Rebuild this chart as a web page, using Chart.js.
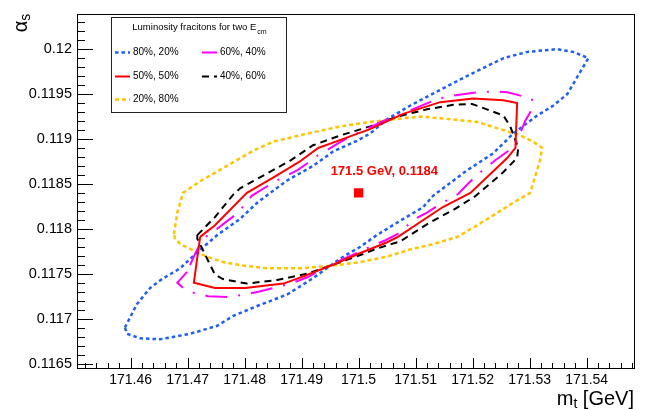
<!DOCTYPE html>
<html>
<head>
<meta charset="utf-8">
<title>alpha_s vs m_t</title>
<script src="https://cdn.jsdelivr.net/npm/chart.js@4.4.1/dist/chart.umd.min.js"></script>
<style>
    html, body { margin: 0; padding: 0; background: #fff; }
    canvas { display: block; }
</style>
</head>
<body>
<canvas id="contours" width="648" height="409"></canvas>
<script>
// axis ticks
var mtTicks = [171.46, 171.47, 171.48, 171.49, 171.5, 171.51, 171.52, 171.53, 171.54];
var asTicks = [0.1165, 0.117, 0.1175, 0.118, 0.1185, 0.119, 0.1195, 0.12];

// best fit point
var bestMt = [171.5];
var bestAs = [0.1184];

// 80%, 20%
var mt8020 = [171.4590, 171.4611, 171.4634, 171.4655, 171.4687, 171.4717, 171.4752, 171.4792, 171.4822, 171.4845,
              171.4875, 171.4920, 171.4955, 171.4997, 171.5020, 171.5050, 171.5090, 171.5138, 171.5196, 171.5254,
              171.5296, 171.5348, 171.5376, 171.5403, 171.5389, 171.5366, 171.5341, 171.5313, 171.5271, 171.5236,
              171.5190, 171.5131, 171.5113, 171.5073, 171.5032, 171.5003, 171.4968, 171.4920, 171.4875, 171.4822,
              171.4780, 171.4752, 171.4704, 171.4652, 171.4617, 171.4594];
var as8020 = [0.11690, 0.11716, 0.11734, 0.11744, 0.11756, 0.11774, 0.11793, 0.11811, 0.11829, 0.11840,
              0.11854, 0.11870, 0.11886, 0.11898, 0.11906, 0.11922, 0.11937, 0.11953, 0.11972, 0.11990,
              0.11997, 0.12000, 0.11997, 0.11990, 0.11975, 0.11950, 0.11937, 0.11926, 0.11906, 0.11884,
              0.11865, 0.11837, 0.11824, 0.11809, 0.11793, 0.11780, 0.11767, 0.11745, 0.11727, 0.11714,
              0.11703, 0.11692, 0.11683, 0.11677, 0.11678, 0.11683];

// 60%, 40%
var mt6040 = [171.4699, 171.4682, 171.4692, 171.4713, 171.4736, 171.4775, 171.4801, 171.4824, 171.4862, 171.4885,
              171.4910, 171.4955, 171.5020, 171.5046, 171.5068, 171.5099, 171.5120, 171.5139, 171.5175, 171.5190,
              171.5208, 171.5239, 171.5261, 171.5278, 171.5292, 171.5304, 171.5304, 171.5261, 171.5236, 171.5208,
              171.5173, 171.5148, 171.5125, 171.5087, 171.5043, 171.5003, 171.4985, 171.4964, 171.4929, 171.4910,
              171.4892, 171.4854, 171.4813, 171.4787, 171.4768, 171.4748, 171.4727, 171.4713];
var as6040 = [0.11752, 0.11740, 0.11734, 0.11728, 0.11725, 0.11724, 0.11727, 0.11730, 0.11736, 0.11740,
              0.11746, 0.11761, 0.11780, 0.11787, 0.11794, 0.11811, 0.11818, 0.11826, 0.11839, 0.11849,
              0.11860, 0.11876, 0.11886, 0.11898, 0.11920, 0.11933, 0.11945, 0.11952, 0.11953, 0.11952,
              0.11949, 0.11946, 0.11941, 0.11931, 0.11920, 0.11908, 0.11903, 0.11895, 0.11882, 0.11873,
              0.11865, 0.11853, 0.11837, 0.11817, 0.11808, 0.11798, 0.11789, 0.11772];

// 50%, 50%
var mt5050 = [171.4722, 171.4748, 171.4804, 171.4850, 171.4897, 171.4929, 171.4955, 171.5020, 171.5078, 171.5143,
              171.5201, 171.5254, 171.5278, 171.5275, 171.5261, 171.5196, 171.5147, 171.5069, 171.5050, 171.5003,
              171.4955, 171.4903, 171.4868, 171.4801, 171.4748, 171.4711];
var as5050 = [0.11791, 0.11804, 0.11840, 0.11857, 0.11875, 0.11890, 0.11896, 0.11911, 0.11928, 0.11941,
              0.11945, 0.11943, 0.11940, 0.11890, 0.11879, 0.11840, 0.11824, 0.11791, 0.11785, 0.11773,
              0.11760, 0.11747, 0.11739, 0.11734, 0.11734, 0.11740];

// 40%, 60%
var mt4060 = [171.4717, 171.4748, 171.4780, 171.4792, 171.4832, 171.4880, 171.4920, 171.4968, 171.5020, 171.5068,
              171.5120, 171.5166, 171.5199, 171.5225, 171.5254, 171.5266, 171.5280, 171.5278, 171.5252, 171.5204,
              171.5166, 171.5125, 171.5090, 171.5073, 171.5032, 171.5008, 171.4955, 171.4910, 171.4857, 171.4804,
              171.4762, 171.4748, 171.4717];
var as4060 = [0.11793, 0.11813, 0.11838, 0.11845, 0.11859, 0.11876, 0.11893, 0.11904, 0.11914, 0.11925,
              0.11933, 0.11938, 0.11939, 0.11933, 0.11926, 0.11914, 0.11890, 0.11879, 0.11862, 0.11836,
              0.11821, 0.11807, 0.11793, 0.11786, 0.11778, 0.11772, 0.11760, 0.11750, 0.11743, 0.11739,
              0.11744, 0.11749, 0.11789];

// 20%, 80%
var mt2080 = [171.4676, 171.4682, 171.4692, 171.4722, 171.4769, 171.4815, 171.4850, 171.4910, 171.4968, 171.5020,
              171.5061, 171.5108, 171.5161, 171.5208, 171.5248, 171.5283, 171.5306, 171.5322, 171.5318, 171.5310,
              171.5301, 171.5271, 171.5236, 171.5208, 171.5173, 171.5131, 171.5090, 171.5050, 171.5003, 171.4955,
              171.4897, 171.4839, 171.4797, 171.4762, 171.4734, 171.4717, 171.4687, 171.4678];
var as2080 = [0.11794, 0.11818, 0.11840, 0.11853, 0.11870, 0.11887, 0.11897, 0.11906, 0.11914, 0.11919,
              0.11922, 0.11925, 0.11922, 0.11919, 0.11911, 0.11904, 0.11897, 0.11890, 0.11876, 0.11859,
              0.11840, 0.11829, 0.11815, 0.11804, 0.11791, 0.11783, 0.11777, 0.11769, 0.11763, 0.11759,
              0.11756, 0.11756, 0.11759, 0.11763, 0.11769, 0.11774, 0.11783, 0.11789];

var FONT = "'Liberation Sans', Arial, Helvetica, sans-serif";
Chart.defaults.font.family = FONT;

// closed contour from two coordinate lists
function contour(xs, ys) {
    var pts = xs.map(function (x, i) { return {x: x, y: ys[i]}; });
    pts.push(pts[0]);
    return pts;
}

function line(label, xs, ys, color, dash, width) {
    return {
        label: label,
        data: contour(xs, ys),
        showLine: true,
        borderColor: color,
        backgroundColor: color,
        borderWidth: width,
        borderDash: dash,
        pointRadius: 0,
        tension: 0,
        fill: false
    };
}

function fmt(v) {
    return String(Number(v.toFixed(5)));
}

// ROOT style box with inward ticks, axis titles, legend and the best fit label
var decorations = {
    id: 'decorations',
    afterDraw: function (chart) {
        var ctx = chart.ctx, a = chart.chartArea;
        var sx = chart.scales.x, sy = chart.scales.y;
        var k, v, p;
        ctx.save();
        ctx.strokeStyle = '#000';
        ctx.lineWidth = 1;
        ctx.strokeRect(Math.round(a.left) + 0.5, Math.round(a.top) + 0.5,
                       Math.round(a.right - a.left), Math.round(a.bottom - a.top));

        ctx.beginPath();
        for (k = Math.ceil(sx.min / 0.002 - 1e-6); k * 0.002 <= sx.max + 1e-9; k++) {
            p = Math.round(sx.getPixelForValue(k * 0.002)) + 0.5;
            ctx.moveTo(p, a.bottom);
            ctx.lineTo(p, a.bottom - (k % 5 === 0 ? 10 : 5));
        }
        for (k = Math.ceil(sy.min / 0.0001 - 1e-6); k * 0.0001 <= sy.max + 1e-9; k++) {
            p = Math.round(sy.getPixelForValue(k * 0.0001)) + 0.5;
            ctx.moveTo(a.left, p);
            ctx.lineTo(a.left + (k % 5 === 0 ? 16 : 8), p);
        }
        ctx.stroke();

        // x title: m_t [GeV]
        ctx.fillStyle = '#000';
        ctx.textBaseline = 'alphabetic';
        ctx.textAlign = 'left';
        ctx.font = '20px ' + FONT;
        var wm = ctx.measureText('m').width;
        var wg = ctx.measureText(' [GeV]').width;
        ctx.font = '14px ' + FONT;
        var wt = ctx.measureText('t').width;
        var x0 = a.right - wm - wt - wg;
        ctx.font = '20px ' + FONT;
        ctx.fillText('m', x0, 405);
        ctx.fillText(' [GeV]', x0 + wm + wt, 405);
        ctx.font = '14px ' + FONT;
        ctx.fillText('t', x0 + wm, 408);

        // y title: alpha_s, rotated
        ctx.save();
        ctx.translate(27, a.top);
        ctx.rotate(-Math.PI / 2);
        ctx.font = '20px ' + FONT;
        var wa = ctx.measureText('\u03b1').width;
        ctx.font = '14px ' + FONT;
        var ws = ctx.measureText('s').width;
        ctx.font = '20px ' + FONT;
        ctx.fillText('\u03b1', -wa - ws, 0);
        ctx.font = '14px ' + FONT;
        ctx.fillText('s', -ws, 3);
        ctx.restore();

        // best fit label
        var bx = sx.getPixelForValue(bestMt[0]), by = sy.getPixelForValue(bestAs[0]);
        ctx.fillStyle = '#ff0000';
        ctx.font = 'bold 13px ' + FONT;
        ctx.fillText(bestMt[0] + ' GeV, ' + bestAs[0], bx - 28, by - 18);

        // legend box
        ctx.fillStyle = '#fff';
        ctx.fillRect(111, 17, 175, 95);
        ctx.strokeStyle = '#222';
        ctx.lineWidth = 1;
        ctx.strokeRect(111.5, 17.5, 175, 95);
        ctx.fillStyle = '#000';
        ctx.textBaseline = 'middle';
        ctx.font = '9.5px ' + FONT;
        var title = 'Luminosity fracitons for two E';
        var wtl = ctx.measureText(title).width;
        ctx.font = '7px ' + FONT;
        var wcm = ctx.measureText('cm').width;
        var tx = 199 - (wtl + wcm) / 2;
        ctx.font = '9.5px ' + FONT;
        ctx.fillText(title, tx, 27);
        ctx.font = '7px ' + FONT;
        ctx.fillText('cm', tx + wtl + 1, 32);

        var rows = [52, 76, 99], cols = [115, 202];
        chart.data.datasets.forEach(function (ds) {
            if (ds.slot === undefined) return;
            var lx = cols[ds.slot[1]], ly = rows[ds.slot[0]];
            ctx.save();
            ctx.strokeStyle = ds.borderColor;
            ctx.lineWidth = ds.borderWidth;
            ctx.setLineDash(ds.borderDash);
            ctx.beginPath();
            ctx.moveTo(lx, ly + 0.5);
            ctx.lineTo(lx + 15, ly + 0.5);
            ctx.stroke();
            ctx.restore();
            ctx.fillStyle = '#000';
            ctx.font = '10px ' + FONT;
            ctx.fillText(ds.label, lx + 18, ly + 0.5);
        });
        ctx.restore();
    }
};

var blue = line('80%, 20%', mt8020, as8020, '#1f5ff2', [3.5, 3], 2.5);
blue.slot = [0, 0];
var magenta = line('60%, 40%', mt6040, as6040, '#ff00ff', [22, 11, 2, 11], 2);
magenta.slot = [0, 1];
var red = line('50%, 50%', mt5050, as5050, '#ff0000', [], 2);
red.slot = [1, 0];
var black = line('40%, 60%', mt4060, as4060, '#000000', [7, 5], 2);
black.slot = [1, 1];
var yellow = line('20%, 80%', mt2080, as2080, '#ffc400', [4, 3], 2.5);
yellow.slot = [2, 0];

var best = {
    label: 'best fit',
    data: bestMt.map(function (x, i) { return {x: x, y: bestAs[i]}; }),
    pointStyle: 'rect',
    pointRadius: 6.6,
    pointHoverRadius: 6.6,
    backgroundColor: '#ff0000',
    borderColor: '#ff0000',
    borderWidth: 0,
    showLine: false
};

new Chart(document.getElementById('contours'), {
    type: 'scatter',
    data: {
        datasets: [best, red, magenta, black, blue, yellow]
    },
    options: {
        responsive: false,
        animation: false,
        layout: { padding: { left: 0, right: 14, top: 8, bottom: 0 } },
        plugins: {
            legend: { display: false },
            tooltip: { enabled: false }
        },
        scales: {
            x: {
                type: 'linear',
                min: 171.4506,
                max: 171.5483,
                grid: { display: false, drawTicks: false },
                border: { display: false },
                afterBuildTicks: function (s) { s.ticks = mtTicks.map(function (v) { return {value: v}; }); },
                afterFit: function (s) { s.height = 41; },
                ticks: {
                    autoSkip: false,
                    maxRotation: 0,
                    padding: 4,
                    color: '#000',
                    font: { size: 14 },
                    callback: function (v) { return fmt(v); }
                }
            },
            y: {
                type: 'linear',
                min: 0.11645,
                max: 0.120395,
                grid: { display: false, drawTicks: false },
                border: { display: false },
                afterBuildTicks: function (s) { s.ticks = asTicks.map(function (v) { return {value: v}; }); },
                afterFit: function (s) { s.width = 77; },
                ticks: {
                    autoSkip: false,
                    padding: 5,
                    color: '#000',
                    font: { size: 14.5 },
                    callback: function (v) { return fmt(v); }
                }
            }
        }
    },
    plugins: [decorations]
});
</script>
</body>
</html>
